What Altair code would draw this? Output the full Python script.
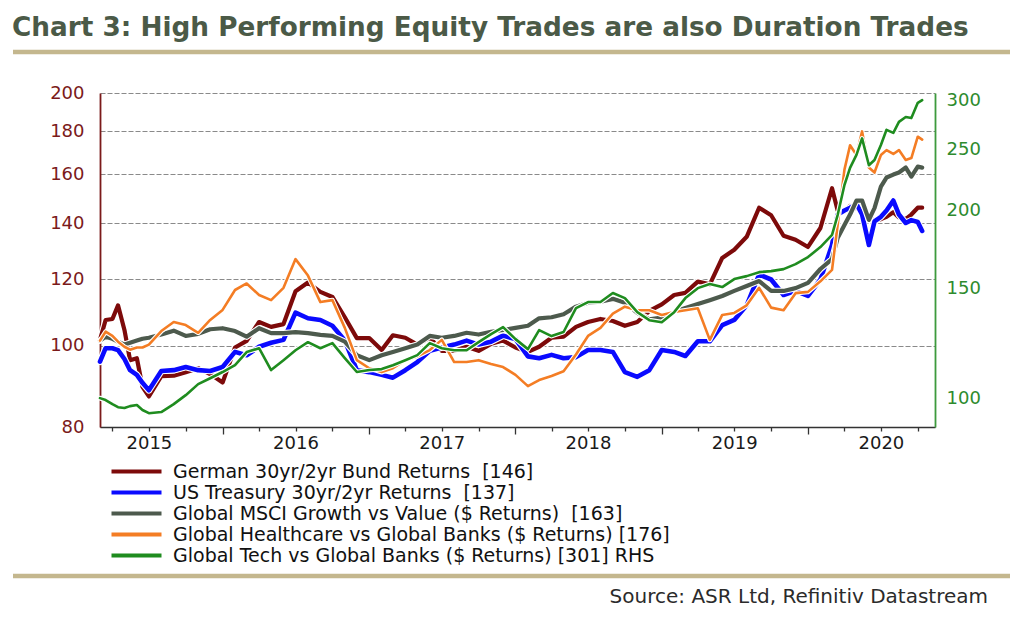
import altair as alt
import pandas as pd

# ---------------- data ----------------
dates = [
    "2015-03-01", "2015-03-15", "2015-04-01", "2015-04-15", "2015-05-01", "2015-05-15",
    "2015-06-01", "2015-06-15", "2015-07-01", "2015-08-01", "2015-09-01", "2015-10-01",
    "2015-11-01", "2015-12-01",
    "2016-01-01", "2016-02-01", "2016-03-01", "2016-04-01", "2016-05-01", "2016-06-01",
    "2016-07-01", "2016-08-01", "2016-09-01", "2016-10-01", "2016-11-01", "2016-12-01",
    "2017-01-01", "2017-02-01", "2017-03-01", "2017-04-01", "2017-05-01", "2017-06-01",
    "2017-07-01", "2017-08-01", "2017-09-01", "2017-10-01", "2017-11-01", "2017-12-01",
    "2018-01-01", "2018-02-01", "2018-03-01", "2018-04-01", "2018-05-01", "2018-06-01",
    "2018-07-01", "2018-08-01", "2018-09-01", "2018-10-01", "2018-11-01", "2018-12-01",
    "2019-01-01", "2019-02-01", "2019-03-01", "2019-04-01", "2019-05-01", "2019-06-01",
    "2019-07-01", "2019-08-01", "2019-09-01", "2019-10-01", "2019-11-01", "2019-12-01",
    "2020-01-01", "2020-02-01", "2020-03-01", "2020-03-15", "2020-04-01", "2020-04-15",
    "2020-05-01", "2020-05-15", "2020-06-01", "2020-06-15", "2020-07-01", "2020-07-15",
    "2020-08-01", "2020-08-15", "2020-09-01", "2020-09-15", "2020-10-01", "2020-10-12",
]

german = [
    101.6, 107.3, 107.6, 111.7, 104.4, 96.1, 96.6, 89.3, 87.0, 92.0, 92.1, 93.0, 94.0, 92.5,
    90.4, 99.5, 101.3, 106.7, 105.3, 106.1, 116.1, 118.9, 115.9, 114.3, 108.1, 102.1,
    102.1, 98.8, 102.9, 102.2, 100.3, 102.2, 98.6, 98.6, 99.7, 98.6, 100.5, 101.4,
    99.5, 98.3, 99.7, 102.2, 102.5, 105.3, 106.7, 107.6, 107.0, 105.6, 106.7, 110.0,
    112.0, 114.9, 115.6, 119.2, 118.3, 127.2, 130.1, 134.8, 146.0, 143.0, 135.2, 133.7,
    131.1, 138.1, 154.0, 144.9, 144.5, 146.7, 145.8, 146.7, 142.2, 140.8, 141.5, 142.4,
    144.2, 142.2, 141.5, 143.3, 146.0, 146.0,
]

us_treasury = [
    95.7, 99.3, 99.3, 98.8, 96.4, 93.5, 92.3, 90.3, 88.5, 93.3, 93.5, 94.3, 93.5, 93.3,
    94.3, 98.3, 97.4, 99.7, 100.8, 101.6, 109.5, 107.8, 107.3, 105.6, 101.4, 93.5,
    93.0, 92.3, 91.6, 93.5, 95.6, 98.6, 99.5, 100.3, 101.4, 100.3, 101.1, 102.8,
    101.8, 97.1, 96.6, 97.5, 96.6, 96.9, 98.8, 98.8, 98.3, 93.0, 91.8, 93.5,
    98.8, 98.3, 97.2, 101.2, 101.2, 105.8, 107.3, 111.7, 121.5, 119.9, 114.9, 116.2,
    114.6, 119.9, 131.8, 143.3, 144.9, 146.0, 147.5, 143.3, 131.8, 140.6, 142.4, 144.9,
    148.9, 143.3, 140.0, 141.1, 140.4, 137.0,
]

msci_growth_value = [
    101.4, 102.5, 101.9, 101.1, 100.3, 100.8, 101.4, 101.9, 102.2, 103.1, 104.2, 102.7, 103.3, 104.6,
    104.9, 104.1, 102.5, 104.9, 103.5, 103.5, 103.8, 103.5, 103.0, 102.7, 101.1, 97.4,
    96.1, 97.4, 98.3, 99.3, 100.3, 102.7, 102.2, 102.7, 103.6, 103.1, 103.9, 104.4,
    105.0, 105.6, 107.8, 108.1, 109.0, 111.3, 112.5, 112.8, 113.7, 112.5, 109.4, 107.5,
    108.0, 109.7, 110.9, 112.1, 113.3, 114.6, 116.2, 117.8, 119.4, 116.2, 116.2, 117.1,
    118.8, 123.4, 126.8, 134.4, 139.2, 143.3, 148.9, 148.9, 141.2, 145.8, 154.7, 158.6,
    159.9, 160.8, 163.0, 159.0, 163.4, 163.0,
]

healthcare_banks = [
    101.4, 103.9, 102.7, 101.1, 99.7, 98.9, 99.5, 99.5, 100.3, 104.1, 106.7, 105.8, 103.6, 107.3,
    110.3, 116.5, 118.6, 114.9, 113.3, 117.2, 126.8, 121.2, 112.7, 113.3, 105.0, 96.1,
    94.0, 93.0, 94.0, 96.1, 97.1, 98.8, 101.6, 95.6, 95.6, 96.1, 95.1, 94.3,
    92.3, 89.5, 91.0, 92.0, 93.2, 97.6, 102.7, 105.0, 109.2, 111.3, 110.2, 110.2,
    108.8, 109.7, 110.2, 110.8, 101.6, 108.8, 109.4, 111.7, 117.2, 111.0, 110.2, 115.5,
    115.9, 119.3, 123.1, 139.2, 162.1, 173.3, 168.7, 180.0, 163.0, 160.8, 168.7, 171.0,
    169.2, 171.0, 166.4, 167.3, 177.4, 176.0,
]

tech_banks = [
    100.0, 99.3, 97.8, 96.7, 96.4, 97.1, 97.5, 95.7, 94.6, 95.0, 97.8, 101.1, 105.3, 107.6,
    110.1, 112.9, 118.5, 120.2, 110.9, 115.0, 119.3, 122.9, 120.2, 122.5, 115.9, 110.1,
    110.9, 111.3, 112.9, 115.0, 117.2, 122.5, 120.2, 119.3, 119.3, 122.9, 126.6, 129.9,
    124.3, 119.8, 128.5, 125.7, 127.6, 139.3, 142.5, 142.5, 147.3, 144.6, 137.3, 133.3,
    132.3, 137.3, 144.6, 150.0, 152.3, 150.6, 155.1, 156.8, 159.1, 159.7, 160.9, 163.9,
    168.2, 174.5, 182.5, 196.4, 219.4, 233.7, 245.2, 260.5, 236.0, 240.6, 254.3, 268.9,
    265.9, 276.9, 281.9, 280.8, 297.0, 300.0,
]

NB = "\u00a0"
names = [
    "German 30yr/2yr Bund Returns " + NB + "[146]",
    "US Treasury 30yr/2yr Returns " + NB + "[137]",
    "Global MSCI Growth vs Value ($ Returns) " + NB + "[163]",
    "Global Healthcare vs Global Banks ($ Returns) [176]",
    "Global Tech vs Global Banks ($ Returns) [301] RHS",
]
colors = ["#7d0a0a", "#0a0aff", "#4d5a4d", "#f47d24", "#1f8c1f"]
widths = [4.2, 4.6, 4.2, 2.6, 2.6]

left_ticks = [80, 100, 120, 140, 160, 180, 200]
right_ticks = [100, 150, 200, 250, 300]

title_text = "Chart 3: High Performing Equity Trades are also Duration Trades"
source_text = "Source: ASR Ltd, Refinitiv Datastream"

FONT = "DejaVu Sans"

# ---------------- encodings ----------------
quarters = [alt.DateTime(year=y, month=m, date=1)
            for y in range(2015, 2021) for m in (1, 4, 7, 10)
            if (y, m) >= (2015, 4)]

x_enc = alt.X(
    "date:T",
    scale=alt.Scale(domain=[alt.DateTime(year=2015, month=3, date=1),
                            alt.DateTime(year=2020, month=11, date=13)]),
    axis=alt.Axis(
        title=None, values=quarters, grid=False,
        labelExpr="month(datum.value) == 6 ? timeFormat(datum.value, '%Y') : ''",
        labelOverlap=False, labelFlush=False,
        tickSize={"condition": {"test": "month(datum.value) == 0", "value": 7}, "value": 4},
        tickColor="#333333", tickWidth=1.3,
        domainColor="#333333", domainWidth=1.6,
        labelFont=FONT, labelFontSize=18, labelColor="#1a1a1a", labelPadding=3,
    ),
)

y_left = alt.Y(
    "value:Q",
    scale=alt.Scale(type="log", domain=[80, 200], nice=False),
    axis=alt.Axis(
        title=None, orient="left", values=left_ticks, format="d", ticks=False,
        labelFont=FONT, labelFontSize=18, labelColor="#7b1a1a", labelPadding=16,
        domainColor="#7b1a1a", domainWidth=1.8,
        grid=True, gridColor="#8a8a8a", gridDash=[5, 2], gridWidth=1.1,
    ),
)

y_right = alt.Y(
    "value:Q",
    scale=alt.Scale(type="log", domain=[89.9, 308], nice=False),
    axis=alt.Axis(
        title=None, orient="right", values=right_ticks, format="d", ticks=False,
        labelFont=FONT, labelFontSize=18, labelColor="#2e8b2e", labelPadding=11,
        domainColor="#3d9a3d", domainWidth=1.8, grid=False,
    ),
)

legend = alt.Legend(
    title=None, orient="none", legendX=27, legendY=369, padding=0,
    symbolType="M-5,0H5", symbolSize=100, symbolStrokeWidth=4,
    labelFont=FONT, labelFontSize=19, labelColor="#111111", labelLimit=1000,
    labelOffset=27, rowPadding=1,
)
color_enc = alt.Color("series:N", scale=alt.Scale(domain=names, range=colors), legend=legend)


def series_layers(vals, name, width, y_enc):
    df = pd.DataFrame({"date": dates, "value": vals, "series": name})
    base = alt.Chart(df)
    halo = base.mark_line(color="white", strokeWidth=width + 2.2,
                          strokeJoin="round", strokeCap="round").encode(x=x_enc, y=y_enc)
    line = base.mark_line(strokeWidth=width, strokeJoin="round",
                          strokeCap="round").encode(x=x_enc, y=y_enc, color=color_enc)
    return [halo, line]


left_parts = []
for vals, name, w in zip([german, us_treasury, msci_growth_value, healthcare_banks],
                         names[:4], widths[:4]):
    left_parts += series_layers(vals, name, w, y_left)
left = alt.layer(*left_parts)

right = alt.layer(*series_layers(tech_banks, names[4], widths[4], y_right))

# ---------------- decorations ----------------
one = pd.DataFrame({"k": [1]})
rule_top = alt.Chart(one).mark_rule(color="#c4b78e", strokeWidth=4.5).encode(
    x=alt.value(-87), x2=alt.value(910), y=alt.value(-41))
rule_bottom = alt.Chart(one).mark_rule(color="#c4b78e", strokeWidth=4.5).encode(
    x=alt.value(-87), x2=alt.value(910), y=alt.value(483))

title_mark = alt.Chart(pd.DataFrame({"t": [title_text]})).mark_text(
    align="left", baseline="alphabetic", font=FONT, fontSize=26.3, fontWeight="bold",
    color="#4b5a47").encode(x=alt.value(-88), y=alt.value(-57), text="t:N")

source_mark = alt.Chart(pd.DataFrame({"t": [source_text]})).mark_text(
    align="right", baseline="alphabetic", font=FONT, fontSize=20,
    color="#2b2b2b").encode(x=alt.value(888), y=alt.value(510), text="t:N")

chart = (
    alt.layer(left, right, rule_top, rule_bottom, title_mark, source_mark)
    .resolve_scale(y="independent")
    .properties(
        width=835, height=334,
        autosize=alt.AutoSizeParams(type="none"),
        padding={"left": 92, "top": 85, "right": 81, "bottom": 184},
        background="white",
    )
    .configure_view(strokeWidth=0)
)

chart.save("out.html", embed_options={"renderer": "svg", "actions": False})
